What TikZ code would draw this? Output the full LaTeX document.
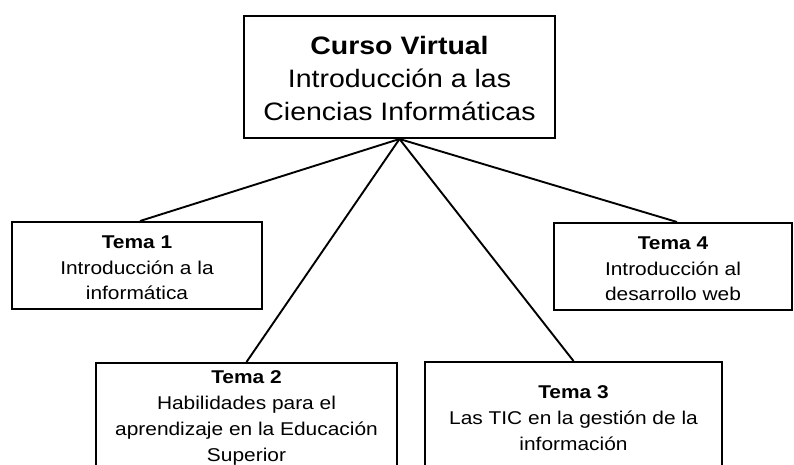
\documentclass[tikz,border=0pt]{standalone}
\usepackage{fontspec}
\setmainfont[FakeStretch=1.13]{Liberation Sans}
\begin{document}
\begin{tikzpicture}[x=1pt,y=-1pt,
  box/.style={draw=black,line width=2pt,rectangle,inner sep=0pt,fill=white},
  bigtxt/.style={align=center,inner sep=0pt,font=\fontsize{25.2}{33}\selectfont},
  smalltxt/.style={align=center,inner sep=0pt,font=\fontsize{18.5}{25.7}\selectfont},
  link/.style={draw=black,line width=1.9pt}]
\useasboundingbox (0,0) rectangle (794,464);
\node[box,minimum width=311pt,minimum height=122pt] (curso) at (399.5,77) {};
\node[box,minimum width=250pt,minimum height=87pt] (t1) at (137,265.5) {};
\node[box,minimum width=238pt,minimum height=87pt] (t4) at (673,266.5) {};
\node[box,minimum width=301pt,minimum height=117pt] (t2) at (246.5,421.5) {};
\node[box,minimum width=297pt,minimum height=118pt] (t3) at (573.5,421) {};
\draw[link] (curso.south) -- ([xshift=3pt]t1.north);
\draw[link] (curso.south) -- (t2.north);
\draw[link] (curso.south) -- (t3.north);
\draw[link] (curso.south) -- ([xshift=4pt]t4.north);
\node[bigtxt] (curso-txt) at (399.5,78) {\textbf{Curso Virtual}\\Introducción a las\\Ciencias Informáticas};
\node[smalltxt] (t1-txt) at (137,268) {\textbf{Tema 1}\\Introducción a la\\informática};
\node[smalltxt] (t4-txt) at (673,269) {\textbf{Tema 4}\\Introducción al\\desarrollo web};
\node[smalltxt] (t2-txt) at (246.5,418) {\textbf{Tema 2}\\Habilidades para el\\aprendizaje en la Educación\\Superior};
\node[smalltxt] (t3-txt) at (573.5,418) {\textbf{Tema 3}\\Las TIC en la gestión de la\\información};
\end{tikzpicture}
\end{document}
